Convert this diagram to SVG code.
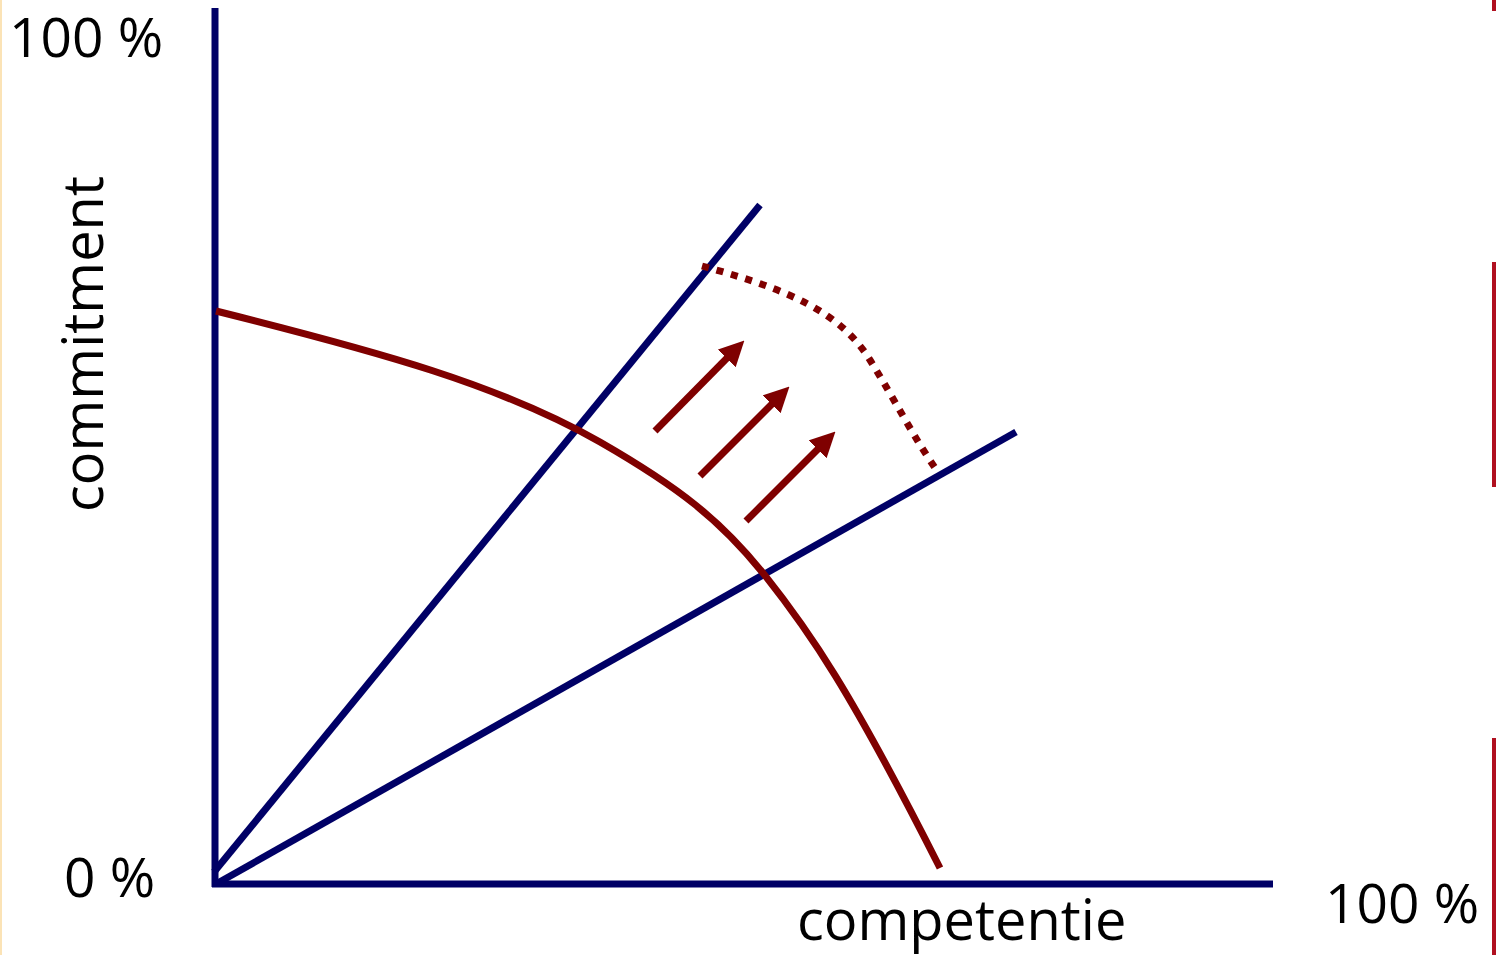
<svg xmlns="http://www.w3.org/2000/svg" width="1498" height="955" viewBox="0 0 1498 955">
<style>
.lbl{font-family:"Open Sans","Liberation Sans",sans-serif;font-size:55px;fill:#000}
.ax{stroke:#000066;stroke-width:7;fill:none}
.red{stroke:#7f0000;stroke-width:7;fill:none}
</style>
<defs>
<marker id="ah" viewBox="0 0 10 10" refX="3" refY="5" markerWidth="3.6" markerHeight="3.6" markerUnits="strokeWidth" orient="auto">
<path d="M0,0 L10,5 L0,10 z" fill="#7f0000"/>
</marker>
</defs>
<rect width="1498" height="955" fill="#fff"/>
<g id="frame">
<line x1="1" y1="0" x2="1" y2="955" stroke="#fbe3b6" stroke-width="2"/>
<line x1="1494" y1="0" x2="1494" y2="11" stroke="#b01020" stroke-width="4"/>
<line x1="1494" y1="262" x2="1494" y2="487" stroke="#b01020" stroke-width="4"/>
<line x1="1494" y1="738" x2="1494" y2="955" stroke="#b01020" stroke-width="4"/>
</g>
<g id="axes">
<line class="ax" x1="215" y1="8" x2="215" y2="887"/>
<line class="ax" x1="212" y1="884" x2="1273" y2="884"/>
</g>
<g id="rays">
<line class="ax" x1="214" y1="872" x2="760" y2="205" stroke-width="6"/>
<line class="ax" x1="216" y1="884" x2="1016" y2="432" stroke-width="6"/>
</g>
<g id="curves">
<path class="red" d="M216,311 C380,352 500,385 600,442 C680,488 720,520 763,573 C810,632 850,690 940,868"/>
<path class="red" stroke-width="7.5" stroke-dasharray="7 8" d="M702,266 C790,290 840,312 870,360 C895,400 915,440 938,472"/>
</g>
<g id="connectors">
<line class="red" x1="655" y1="431" x2="732" y2="353" marker-end="url(#ah)"/>
<line class="red" x1="700" y1="476" x2="777" y2="399" marker-end="url(#ah)"/>
<line class="red" x1="746" y1="521" x2="823" y2="444" marker-end="url(#ah)"/>
</g>
<g id="labels">
<text class="lbl" x="9" y="57">100 %</text>
<text class="lbl" x="64" y="897">0 %</text>
<text class="lbl" x="1325" y="923">100 %</text>
<text class="lbl" x="797" y="940" style="font-size:56px">competentie</text>
<text class="lbl" transform="translate(103,512) rotate(-90)" style="font-size:56px">commitment</text>
</g>
</svg>
